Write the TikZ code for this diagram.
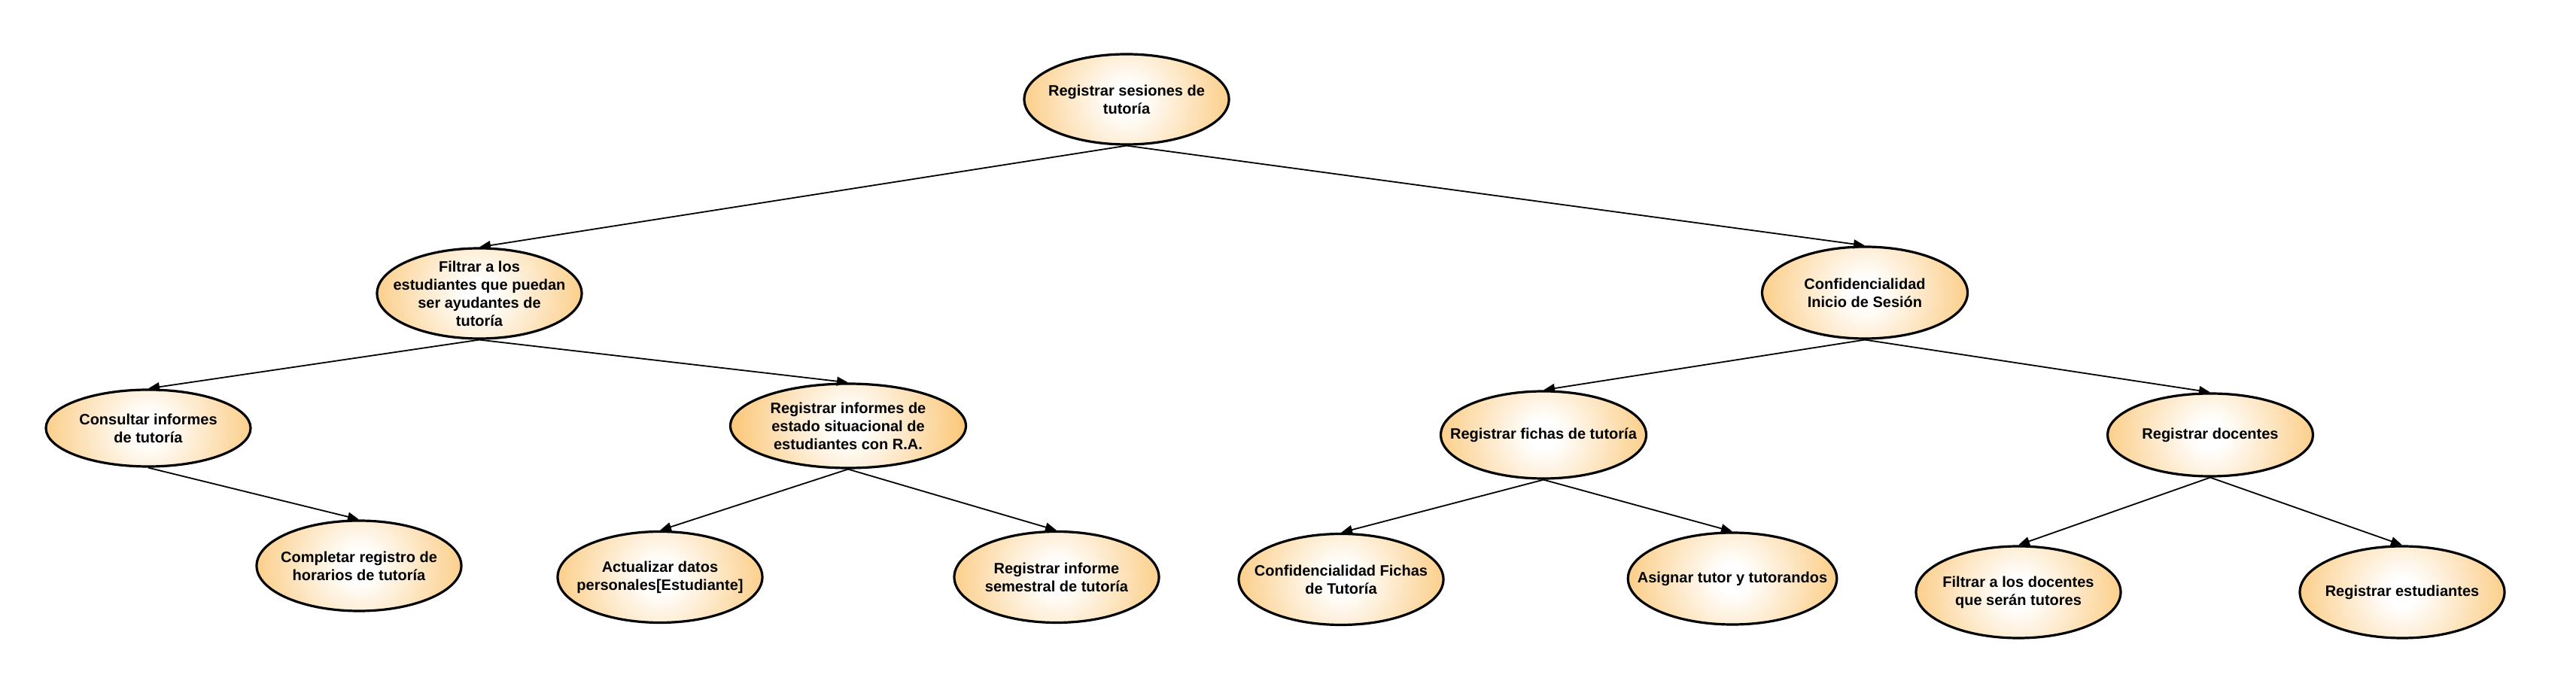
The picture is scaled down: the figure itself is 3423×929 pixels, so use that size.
\documentclass[tikz,border=0pt]{standalone}
\usepackage{fontspec}
\setmainfont{Liberation Sans}
\usetikzlibrary{shapes.geometric,arrows.meta}
\definecolor{ucorange}{RGB}{250,184,84}
\pgfdeclareradialshading{ucshade}{\pgfpoint{0bp}{0bp}}{color(0bp)=(white); color(3bp)=(white); color(30bp)=(ucorange); color(50bp)=(ucorange)}
\begin{document}
\begin{tikzpicture}[x=0.5pt,y=-0.5pt,
  uc/.style={ellipse, draw=black, fill=ucorange, line width=1.6pt, align=center,
    path picture={\path[shading=ucshade] (path picture bounding box.center) circle[radius=80pt];},
    inner xsep=-14pt, inner ysep=-8pt,
    font=\fontsize{10pt}{12pt}\selectfont\bfseries, text=black},
  sz/.style 2 args={minimum width=#1*0.5pt, minimum height=#2*0.5pt},
  link/.style={line width=0.9pt, -{Triangle[length=7.5pt,width=6pt]}}]
\useasboundingbox (0,0) rectangle (3423,929);
\node[uc,sz={272}{120}] (root) at (1497,132) {Registrar sesiones de\\tutoría};
\node[uc,sz={272}{120}] (filt) at (637,390) {Filtrar a los\\estudiantes que puedan\\ser ayudantes de\\tutoría};
\node[uc,sz={273}{122}] (conf) at (2478,389) {Confidencialidad\\Inicio de Sesión};
\node[uc,sz={272}{102}] (cons) at (197,569) {Consultar informes\\de tutoría};
\node[uc,sz={313}{112}] (rinf) at (1127,566) {Registrar informes de\\estado situacional de\\estudiantes con R.A.};
\node[uc,sz={273}{116}] (rfich) at (2051,578) {Registrar fichas de tutoría};
\node[uc,sz={273}{110}] (rdoc) at (2937,578) {Registrar docentes};
\node[uc,sz={272}{120}] (comp) at (477,752) {Completar registro de\\horarios de tutoría};
\node[uc,sz={272}{121}] (act) at (877,767) {Actualizar datos\\personales[Estudiante]};
\node[uc,sz={272}{121}] (sem) at (1404,767) {Registrar informe\\semestral de tutoría};
\node[uc,sz={272}{121}] (cfich) at (1782,770) {Confidencialidad Fichas\\de Tutoría};
\node[uc,sz={272}{122}] (asig) at (2302,769) {Asignar tutor y tutorandos};
\node[uc,sz={272}{122}] (fdoc) at (2682,787) {Filtrar a los docentes\\que serán tutores};
\node[uc,sz={272}{122}] (rest) at (3192,787) {Registrar estudiantes};
\draw[link] (root.south) -- (filt.north);
\draw[link] (root.south) -- (conf.north);
\draw[link] (filt.south) -- (cons.north);
\draw[link] (filt.south) -- (rinf.north);
\draw[link] (cons.south) -- (comp.north);
\draw[link] (rinf.south) -- (act.north);
\draw[link] (rinf.south) -- (sem.north);
\draw[link] (conf.south) -- (rfich.north);
\draw[link] (conf.south) -- (rdoc.north);
\draw[link] (rfich.south) -- (cfich.north);
\draw[link] (rfich.south) -- (asig.north);
\draw[link] (rdoc.south) -- (fdoc.north);
\draw[link] (rdoc.south) -- (rest.north);
\end{tikzpicture}
\end{document}
